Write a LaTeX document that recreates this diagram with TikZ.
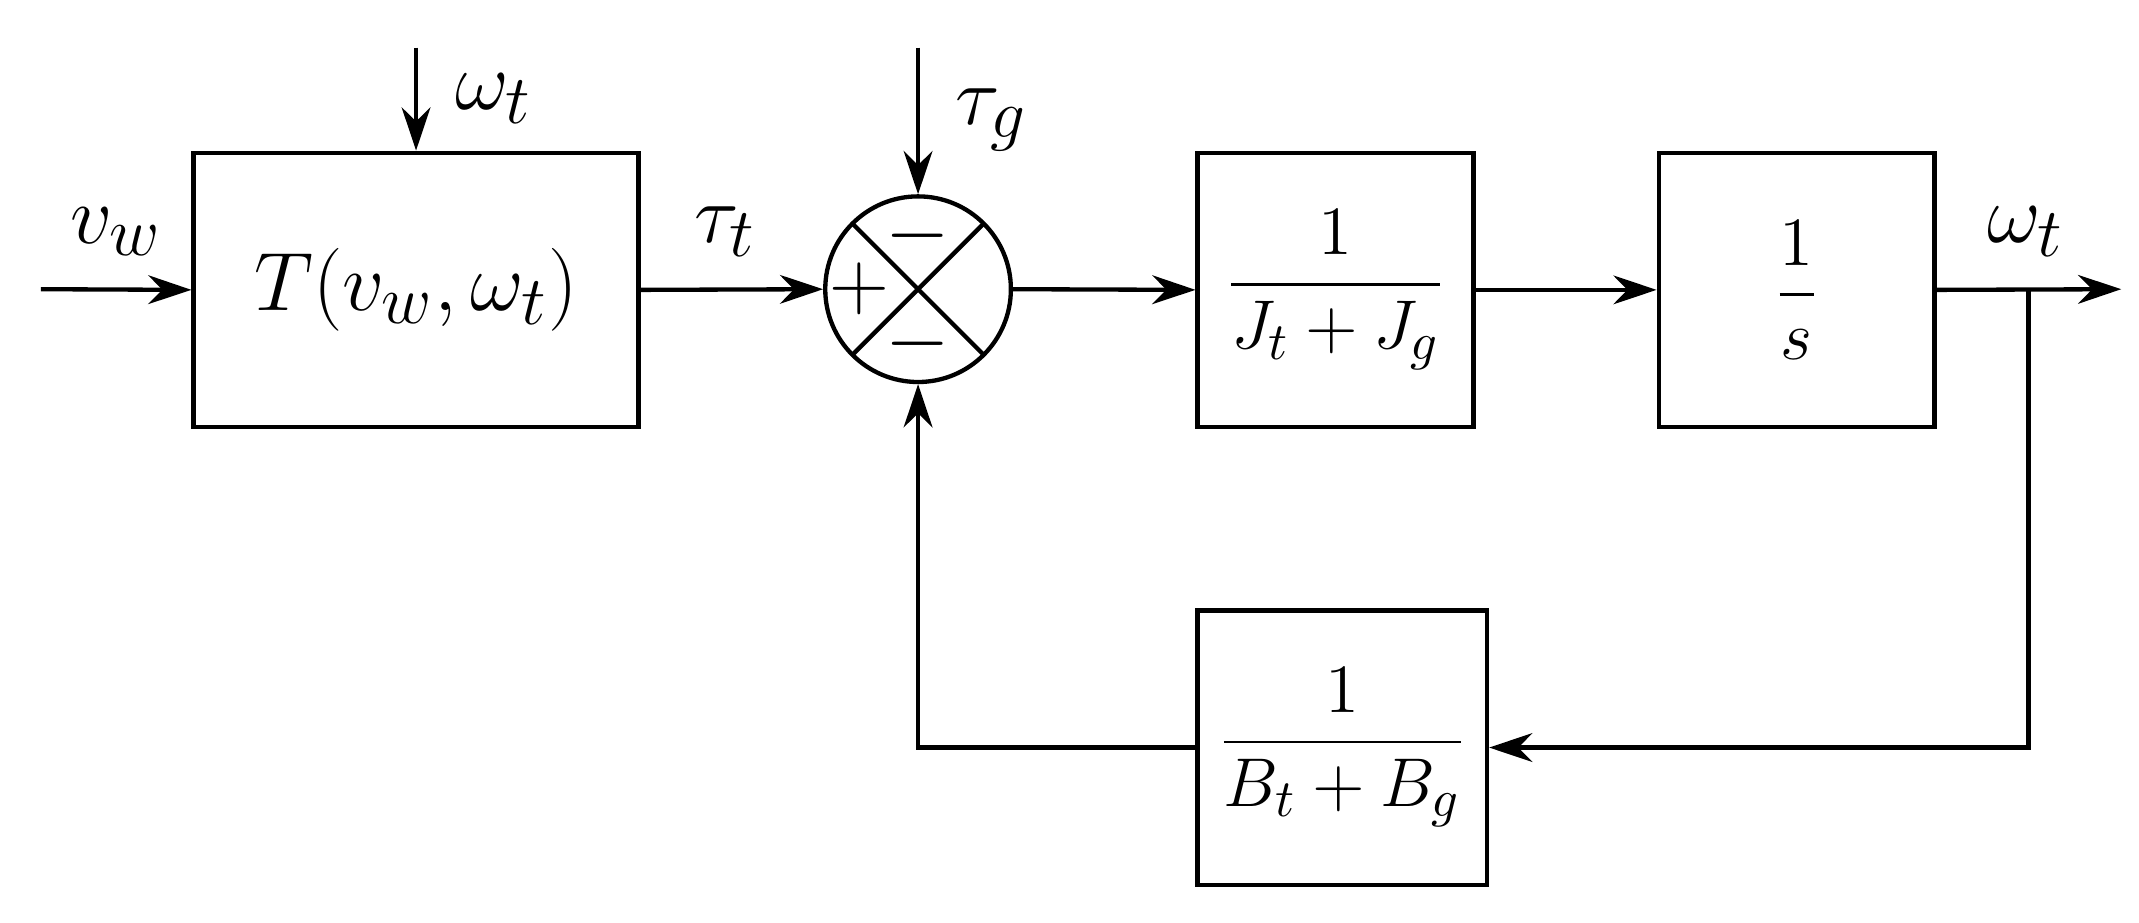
\documentclass[tikz,border=0pt]{standalone}
\usepackage{amsmath}
\usetikzlibrary{arrows.meta,calc}
\begin{document}
\begin{tikzpicture}[x=0.01cm,y=-0.01cm,line width=0.9pt,
  blk/.style={draw,minimum width=#1,minimum height=2.01cm,inner sep=0pt},
  arr/.style={-{Stealth[length=9pt,width=6pt]}},
  big/.style={font=\fontsize{19}{22}\selectfont},
  fr/.style={font=\fontsize{15}{18}\selectfont}]
\useasboundingbox (0,0) rectangle (1568,676);
\node[blk=3.26cm,big] (T) at (305,212.5) {$T(v_w,\omega_t)$};
\node[draw,circle,minimum size=1.36cm,inner sep=0pt] (S) at (673,212) {};
\draw ($(S.center)+(-48,-48)$) -- ($(S.center)+(48,48)$);
\draw ($(S.center)+(-48,48)$) -- ($(S.center)+(48,-48)$);
\node[big] (sm1) at (673,173) {$-$};
\node[big] (sp) at (630,212) {$+$};
\node[big] (sm2) at (673,252) {$-$};
\node[blk=2.02cm,fr] (G1) at (979,212.5) {$\dfrac{1}{J_t+J_g}$};
\node[blk=2.02cm,fr] (G2) at (1317,212.5) {$\dfrac{1}{s}$};
\node[blk=2.12cm,fr] (G3) at (984,548) {$\dfrac{1}{B_t+B_g}$};
\coordinate (in) at (30,212);
\coordinate (wt) at (305,35);
\coordinate (tg) at (673,35);
\coordinate (out) at (1555,212);
\coordinate (br) at (1487,212);
\coordinate (c1) at (1487,548);
\coordinate (c2) at (673,548);
\draw[arr] (in) -- (T.west);
\draw[arr] (wt) -- (T.north);
\draw[arr] (T.east) -- (S.west);
\draw[arr] (tg) -- (S.north);
\draw[arr] (S.east) -- (G1.west);
\draw[arr] (G1.east) -- (G2.west);
\draw[arr] (G2.east) -- (out);
\draw[arr] (br) -- (c1) -- (G3.east);
\draw[arr] (G3.west) -- (c2) -- (S.south);
\node[big] (lvw) at (85,170) {$v_w$};
\node[big] (lwt1) at (362,72) {$\omega_t$};
\node[big] (ltt) at (532,170) {$\tau_t$};
\node[big] (ltg) at (727,88) {$\tau_g$};
\node[big] (lwt2) at (1485,170) {$\omega_t$};
\end{tikzpicture}
\end{document}
